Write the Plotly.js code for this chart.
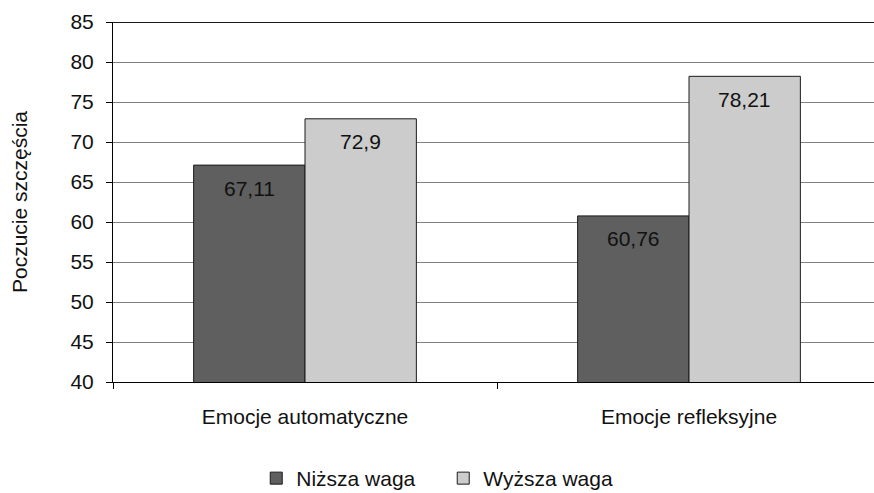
<!DOCTYPE html>
<html><head><meta charset="utf-8">
<script src="https://cdn.plot.ly/plotly-3.0.1.min.js"></script>
<style>html,body{margin:0;padding:0;overflow:hidden;background:#fff}</style>
</head><body>
<div id="chart" style="width:884px;height:493px"></div>
<script>
var categories = ["Emocje automatyczne", "Emocje refleksyjne"];
var seriesNames = ["Niższa waga", "Wyższa waga"];
var nizsza = [67.11, 60.76];
var wyzsza = [72.9, 78.21];
var seriesColors = ["#5f5f5f", "#cccccc"];
var yTitle = "Poczucie szczęścia";

var FONT = "Liberation Sans, Arial, sans-serif";
var allSeries = [nizsza, wyzsza];
var traces = allSeries.map(function(vals, i){
  return {
    type: "bar", x: categories, y: vals, name: seriesNames[i],
    marker: {color: seriesColors[i], line: {color: "#1a1a1a", width: 1}},
    hoverinfo: "none"
  };
});

var annotations = [];
var shifts = [-55.75, 55.75];
allSeries.forEach(function(vals, i){
  vals.forEach(function(v, j){
    annotations.push({
      x: categories[j], y: v, xref: "x", yref: "y",
      text: String(v).replace(".", ","), showarrow: false,
      xshift: shifts[i], yshift: -23,
      font: {family: FONT, size: 21, color: "#111"}
    });
  });
});

var layout = {
  width: 884, height: 493,
  margin: {l: 113, r: 3, t: 22, b: 111, autoexpand: false},
  paper_bgcolor: "#fff", plot_bgcolor: "#fff",
  font: {family: FONT, size: 21, color: "#111"},
  barmode: "group", bargap: 0.42, bargroupgap: 0,
  showlegend: true,
  legend: {orientation: "h", x: 0.43, xanchor: "center", y: -0.268, yanchor: "middle",
           font: {size: 21}, entrywidth: 142, traceorder: "normal"},
  xaxis: {
    type: "category", tickson: "boundaries", ticks: "outside", ticklen: 6, tickcolor: "#000",
    showline: true, linecolor: "#000", linewidth: 1, showgrid: false,
    tickfont: {size: 21}, ticklabelstandoff: 16, automargin: false
  },
  yaxis: {
    range: [40, 85], dtick: 5, tick0: 40, ticks: "outside", ticklen: 6, tickcolor: "#000",
    showline: true, linecolor: "#000", linewidth: 1, mirror: false,
    showgrid: true, gridcolor: "#808080", gridwidth: 1, zeroline: false,
    tickfont: {size: 21}, ticklabelstandoff: 8, automargin: false,
    title: {text: yTitle, font: {size: 21}, standoff: 37}
  },
  shapes: [{type: "line", xref: "paper", yref: "y", x0: 0, x1: 1, y0: 85, y1: 85,
            line: {color: "#1a1a1a", width: 2}}],
  annotations: annotations
};

Plotly.newPlot("chart", traces, layout, {staticPlot: true, displayModeBar: false});
</script>
</body></html>
